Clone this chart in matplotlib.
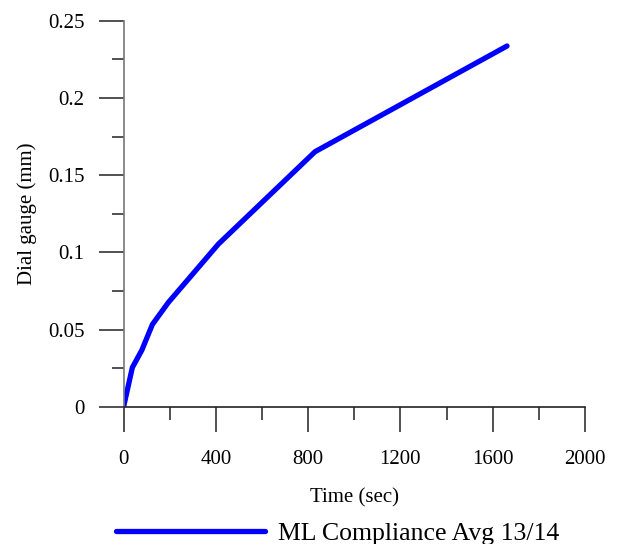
import matplotlib.pyplot as plt
from matplotlib.ticker import MultipleLocator, FuncFormatter

# readings
time_sec = [0, 38, 79, 125, 194, 411, 830, 1662]
dial_mm = [0, 0.0255, 0.0367, 0.0534, 0.0676, 0.1054, 0.1652, 0.2336]
series_name = 'ML Compliance Avg 13/14'

plt.rcParams['font.family'] = ['Liberation Serif', 'DejaVu Serif']

fig = plt.figure(figsize=(6.21, 5.44), dpi=100)
ax = fig.add_axes([0.199, 0.252, 0.743, 0.710])

ax.plot(time_sec, dial_mm, color='#0000ff', lw=3.8, solid_capstyle='round',
        label=series_name)

ax.set_xlim(0, 2000)
ax.set_ylim(0, 0.25)
ax.xaxis.set_major_locator(MultipleLocator(400))
ax.xaxis.set_minor_locator(MultipleLocator(200))
ax.yaxis.set_major_locator(MultipleLocator(0.05))
ax.yaxis.set_minor_locator(MultipleLocator(0.025))
ax.yaxis.set_major_formatter(FuncFormatter(lambda v, p: '%g' % round(v, 3)))

for s in ['top', 'right']:
    ax.spines[s].set_visible(False)
ax.spines['left'].set_color('#777777')
ax.spines['bottom'].set_color('#222222')
ax.spines['left'].set_linewidth(1.2)
ax.spines['bottom'].set_linewidth(1.2)

ax.tick_params(which='major', direction='out', length=18, width=1.2,
               color='#333333', labelsize=15)
ax.tick_params(axis='x', which='major', pad=13)
ax.tick_params(axis='y', which='major', pad=10)
ax.tick_params(which='minor', direction='out', length=9, width=1.2,
               color='#333333')

ax.set_xlabel('Time (sec)', fontsize=15, labelpad=14)
ax.set_ylabel('Dial gauge (mm)', fontsize=15, labelpad=8)

fig.legend(loc='lower center', bbox_to_anchor=(0.543, -0.045), frameon=False,
           fontsize=18.5, handlelength=5.8, handletextpad=0.5)

fig.savefig('out.png', dpi=100)
